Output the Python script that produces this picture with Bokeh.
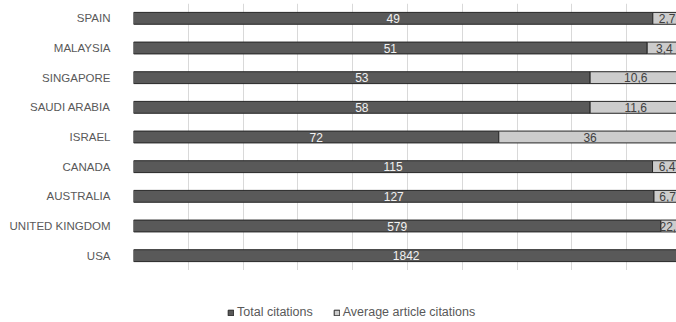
from bokeh.plotting import figure
from bokeh.layouts import column
from bokeh.models import ColumnDataSource, FactorRange, Range1d, Legend, LegendItem, SingleIntervalTicker
from bokeh.core.properties import value
from bokeh.embed import file_html
from bokeh.resources import INLINE

countries = ["USA", "UNITED KINGDOM", "AUSTRALIA", "CANADA", "ISRAEL",
             "SAUDI ARABIA", "SINGAPORE", "MALAYSIA", "SPAIN"]
total_citations = [1842, 579, 127, 115, 72, 58, 53, 51, 49]
avg_citations = [8.6, 22.6, 6.7, 6.4, 36, 11.6, 10.6, 3.4, 2.7]
series_names = ["Total citations", "Average article citations"]
colors = ["#595959", "#cccccc"]

X_END = 0.991  # visible part of the 100% axis

def fmt(v):
    s = ("%g" % v)
    return s.replace(".", ",")

sums = [t + a for t, a in zip(total_citations, avg_citations)]
frac_t = [t / s for t, s in zip(total_citations, sums)]
frac_a = [a / s for a, s in zip(avg_citations, sums)]

src = ColumnDataSource(dict(
    country=countries,
    t0=[0] * len(countries),
    t1=frac_t,
    a1=[1.0] * len(countries),
    tmid=[f / 2 for f in frac_t],
    tlab=[fmt(v) for v in total_citations],
))

amid = [ft + fa / 2 for ft, fa in zip(frac_t, frac_a)]
vis = [i for i, m in enumerate(amid) if m < X_END - 0.008]
src_a = ColumnDataSource(dict(
    country=[countries[i] for i in vis],
    amid=[amid[i] for i in vis],
    alab=[fmt(avg_citations[i]) for i in vis],
))

p = figure(width=676, height=270, output_backend="svg", toolbar_location=None,
           y_range=FactorRange(*countries), x_range=Range1d(0, X_END),
           min_border_left=133, min_border_right=0, min_border_top=3,
           min_border_bottom=0)
p.outline_line_color = None
p.background_fill_color = "white"
p.border_fill_color = "white"

p.hbar(y="country", left="t0", right="t1", height=0.4, source=src,
       fill_color=colors[0], line_color="#262626", line_width=1)
p.hbar(y="country", left="t1", right="a1", height=0.4, source=src,
       fill_color=colors[1], line_color="#262626", line_width=1)

p.text(x="tmid", y="country", text="tlab", source=src, text_align="center",
       text_baseline="middle", text_font=value("Liberation Sans"),
       text_font_size="12px", text_color="#f2f2f2")
p.text(x="amid", y="country", text="alab", source=src_a, text_align="center",
       text_baseline="middle", text_font=value("Liberation Sans"),
       text_font_size="12px", text_color="#404040")

p.xaxis.visible = False
p.xaxis.ticker = SingleIntervalTicker(interval=0.1)
p.xgrid.ticker = SingleIntervalTicker(interval=0.1)
p.xgrid.grid_line_color = "#d9d9d9"
p.ygrid.grid_line_color = None

p.yaxis.axis_line_color = None
p.yaxis.major_tick_line_color = None
p.yaxis.minor_tick_line_color = None
p.yaxis.major_label_standoff = 17
p.yaxis.major_label_text_font = "Liberation Sans"
p.yaxis.major_label_text_font_size = "11.5px"
p.yaxis.major_label_text_color = "#595959"

# legend strip below the chart (frames are aligned with the chart above)
lf = figure(width=676, height=52, output_backend="svg", toolbar_location=None,
            x_range=Range1d(0, 1), y_range=Range1d(0, 1), min_border=0)
lf.outline_line_color = None
lf.axis.visible = False
lf.grid.visible = False
dummy = ColumnDataSource(dict(y=[-5], left=[-5], right=[-4]))
lr_t = lf.hbar(y="y", left="left", right="right", height=0.1, source=dummy,
               fill_color=colors[0], line_color="#262626", line_width=1)
lr_a = lf.hbar(y="y", left="left", right="right", height=0.1, source=dummy,
               fill_color=colors[1], line_color="#262626", line_width=1)
legend = Legend(items=[LegendItem(label=series_names[0], renderers=[lr_t]),
                       LegendItem(label=series_names[1], renderers=[lr_a])],
                orientation="horizontal", location=(94, 3),
                label_text_font="Liberation Sans", label_text_font_size="12.5px",
                label_text_color="#595959", glyph_width=7, glyph_height=7,
                label_standoff=3, spacing=20, padding=0, margin=0,
                label_height=12,
                border_line_color=None, background_fill_alpha=0)
lf.add_layout(legend, "center")

open("out.html", "w").write(file_html(column(p, lf, spacing=0), INLINE))
